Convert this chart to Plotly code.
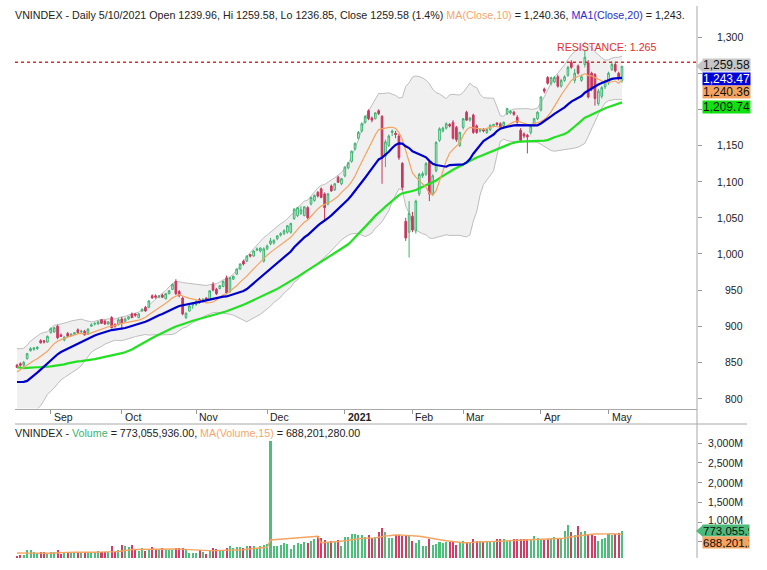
import numpy as np
import pandas as pd
import plotly.graph_objects as go

# ---------------- data ----------------
HOLIDAYS = ["2020-09-02", "2021-01-01", "2021-02-10", "2021-02-11", "2021-02-12",
            "2021-02-15", "2021-02-16", "2021-04-21", "2021-04-30", "2021-05-03"]
dates = [d.strftime("%Y-%m-%d") for d in pd.bdate_range("2020-08-18", "2021-05-10")
         if d.strftime("%Y-%m-%d") not in HOLIDAYS]

opens = [846, 848, 846, 855, 866, 868, 869, 880, 880, 878,
         891, 892, 900, 888, 881, 890, 887, 889, 895, 892, 893, 889, 900, 903, 903, 909, 907, 903, 912, 902, 902,
         910, 907, 910, 917, 917, 912, 921, 926, 926, 942, 942, 940, 943, 938, 945, 951, 962, 948, 939, 912, 921, 929,
         930, 937, 934, 939, 937, 958, 951, 952, 955, 967, 948, 965, 972, 979, 990, 990, 999, 997, 1005, 1004, 990,
         1007, 1014, 1015, 1021, 1026, 1028, 1030, 1030, 1049, 1053, 1056, 1053, 1064, 1069, 1074, 1085, 1090, 1083, 1069, 1094, 1089, 1106, 1097,
         1108, 1119, 1128, 1145, 1160, 1170, 1182, 1198, 1188, 1187, 1198, 1190, 1135, 1150, 1168, 1167, 1163, 1125, 1045, 1030,
         1052, 1032, 1083, 1108, 1110, 1127, 1083, 1115, 1157, 1170, 1174, 1179, 1182, 1175, 1150,
         1175, 1196, 1185, 1192, 1177, 1170, 1172, 1168, 1172, 1177, 1181, 1180, 1177, 1194, 1195, 1196, 1189, 1171, 1166, 1164, 1168, 1178, 1187,
         1199, 1228, 1244, 1236, 1238, 1245, 1232, 1240, 1247, 1265, 1240, 1260, 1240, 1262, 1264, 1250, 1248, 1208, 1218, 1231,
         1237, 1255, 1262, 1250, 1239.96]
highs = [848, 850, 852, 863, 871, 871, 872, 882, 881, 887,
         898, 899, 902, 890, 886, 892, 890, 892, 897, 895, 895, 897, 904, 905, 907, 910, 909, 907, 914, 904, 911,
         913, 912, 914, 919, 918, 918, 925, 928, 936, 944, 944, 943, 945, 946, 950, 959, 965, 950, 941, 919, 930, 933,
         936, 939, 939, 940, 950, 961, 953, 957, 963, 970, 968, 970, 980, 987, 992, 998, 1000, 1005, 1009, 1009, 1009,
         1013, 1022, 1020, 1026, 1030, 1034, 1040, 1043, 1063, 1065, 1066, 1066, 1066, 1079, 1082, 1087, 1092, 1085, 1084, 1096, 1098, 1108, 1105,
         1121, 1127, 1143, 1154, 1170, 1182, 1192, 1200, 1190, 1196, 1200, 1192, 1158, 1165, 1172, 1170, 1166, 1127, 1050, 1073,
         1058, 1075, 1112, 1114, 1127, 1130, 1110, 1156, 1175, 1176, 1182, 1181, 1185, 1177, 1169,
         1188, 1198, 1189, 1194, 1179, 1174, 1174, 1173, 1179, 1180, 1182, 1182, 1183, 1202, 1199, 1198, 1192, 1174, 1168, 1166, 1178, 1188, 1197,
         1218, 1230, 1246, 1245, 1246, 1248, 1242, 1247, 1260, 1268, 1256, 1262, 1248, 1282, 1268, 1252, 1250, 1228, 1232, 1241,
         1252, 1266, 1265, 1252, 1259.58]
lows = [842, 844, 843, 854, 865, 866, 867, 876, 876, 877,
        890, 891, 882, 885, 879, 885, 886, 888, 890, 891, 887, 888, 899, 901, 902, 903, 902, 902, 897, 898, 901,
        895, 905, 909, 911, 913, 911, 920, 920, 925, 938, 938, 939, 939, 937, 944, 950, 943, 940, 915, 910, 920, 924,
        928, 931, 933, 935, 936, 948, 943, 951, 954, 944, 946, 964, 971, 978, 984, 989, 995, 996, 1004, 1002, 988,
        1005, 1012, 1013, 1019, 1024, 1026, 1028, 1028, 1047, 1051, 1054, 1052, 1048, 1067, 1072, 1078, 1077, 1046, 1067, 1086, 1087, 1098, 1095,
        1106, 1117, 1126, 1143, 1158, 1168, 1180, 1185, 1182, 1186, 1192, 1097, 1120, 1148, 1163, 1160, 1130, 1088, 1018, 995,
        1030, 1028, 1080, 1105, 1108, 1073, 1080, 1113, 1155, 1168, 1172, 1175, 1158, 1155, 1148,
        1172, 1184, 1183, 1166, 1166, 1168, 1168, 1166, 1170, 1175, 1177, 1173, 1175, 1192, 1193, 1191, 1180, 1155, 1160, 1139, 1165, 1176, 1185,
        1197, 1222, 1234, 1233, 1236, 1230, 1230, 1238, 1245, 1256, 1236, 1248, 1238, 1258, 1215, 1225, 1205, 1205, 1215, 1228,
        1234, 1253, 1251, 1240, 1236.85]
closes = [843, 846, 850, 862, 869, 870, 871, 877, 878, 886,
          897, 898, 884, 886, 885, 886, 889, 891, 891, 893, 888, 896, 902, 904, 906, 904, 903, 906, 898, 900, 909,
          904, 910, 913, 912, 915, 917, 923, 921, 935, 939, 940, 942, 940, 945, 949, 958, 945, 942, 917, 918, 928, 932,
          934, 933, 937, 937, 949, 950, 945, 956, 962, 946, 967, 969, 979, 986, 986, 997, 997, 1004, 1007, 1008, 1007,
          1011, 1018, 1019, 1025, 1028, 1032, 1039, 1042, 1062, 1064, 1061, 1065, 1050, 1078, 1081, 1080, 1078, 1064, 1083, 1087, 1097, 1099, 1104,
          1120, 1126, 1142, 1153, 1168, 1180, 1190, 1187, 1185, 1195, 1194, 1132, 1155, 1163, 1170, 1165, 1133, 1092, 1022, 1056,
          1033, 1073, 1110, 1111, 1125, 1083, 1108, 1154, 1173, 1174, 1180, 1177, 1160, 1158, 1168,
          1187, 1185, 1188, 1168, 1168, 1172, 1170, 1172, 1178, 1179, 1179, 1175, 1182, 1201, 1197, 1193, 1182, 1157, 1163, 1162, 1177, 1187, 1196,
          1217, 1225, 1236, 1244, 1244, 1232, 1240, 1245, 1258, 1258, 1250, 1250, 1245, 1272, 1217, 1228, 1215, 1225, 1230, 1239,
          1250, 1262, 1253, 1242.2, 1259.58]
# closes before the visible window (for the moving averages / bands)
pre_closes = [866, 878, 880, 887, 863, 856, 838, 858, 866, 869, 874, 868, 866, 865, 857, 850, 838, 825,
              834, 845, 855, 867, 866, 868, 860, 863, 858, 857, 860, 853, 855, 842, 842, 848, 845, 835,
              801, 783, 797, 794, 790, 790, 807, 813, 818, 825, 838, 842, 847, 842, 851, 847]

volumes_m = [130, 160, 170, 290, 280, 240, 210, 250, 240, 200,
             250, 245, 290, 200, 210, 230, 210, 220, 240, 230, 240, 250, 240, 250, 260, 250, 240, 250, 380, 250, 300,
             430, 380, 370, 420, 310, 260, 330, 270, 290, 360, 290, 290, 330, 290, 300, 300, 330, 330, 330, 290, 220, 210,
             220, 280, 230, 200, 280, 330, 310, 260, 280, 330, 380, 330, 360, 360, 330, 400, 390, 380, 330, 380, 430,
             450, 3060, 380, 400, 420, 470, 440, 320, 420, 480, 450, 490, 470, 530, 580, 650, 600, 540, 500, 520, 510, 540, 400,
             620, 620, 700, 690, 670, 670, 630, 670, 590, 630, 740, 840, 740, 590, 600, 671, 671, 640, 671, 671,
             520, 480, 544, 390, 390, 560, 418, 440, 500, 480, 500, 500, 500, 418, 480,
             530, 460, 500, 570, 530, 530, 500, 530, 530, 530, 560, 560, 560, 530, 544, 560, 560, 560, 560, 560, 544, 640, 590,
             560, 544, 560, 590, 610, 590, 590, 780, 924, 740, 671, 900, 740, 760, 680, 660, 650, 520, 560, 600,
             700, 680, 700, 720, 773.055936]
pre_volumes_m = [240, 260, 230, 220, 250, 260, 240, 230, 220, 210, 200, 190, 180, 170]

MONTH_LABELS = ["Sep", "Oct", "Nov", "Dec", "2021", "Feb", "Mar", "Apr", "May"]
PRICE_TICKS = [800, 850, 900, 950, 1000, 1050, 1100, 1150, 1200, 1250, 1300]
PRICE_LABELS_SHOWN = [800, 850, 900, 950, 1000, 1050, 1100, 1150, 1300]
VOLUME_TICKS_M = [500, 1000, 1500, 2000, 2500, 3000]
VOLUME_LABELS_SHOWN_M = [1000, 1500, 2000, 2500, 3000]
RESISTANCE = 1265
MA10_LAST, MA20_LAST, MA50_LAST = 1240.36, 1243.47, 1209.74
VOLUME_LAST, VOLUME_MA_LAST = 773055936.00, 688201280.00
CHANGE_PCT = 1.4

# ---------------- derived ----------------
n = len(dates)
all_close = pd.Series(pre_closes + closes, dtype=float)
ma10 = all_close.rolling(10).mean().iloc[-n:].tolist()
ma20s = all_close.rolling(20).mean()
sd20 = all_close.rolling(20).std(ddof=0)
ma20 = ma20s.iloc[-n:].tolist()
bb_up = (ma20s + 2 * sd20).iloc[-n:].tolist()
bb_lo = (ma20s - 2 * sd20).iloc[-n:].tolist()
ma50 = all_close.rolling(50).mean().iloc[-n:].tolist()
all_vol = pd.Series(pre_volumes_m + volumes_m, dtype=float) * 1e6
vol = (pd.Series(volumes_m, dtype=float) * 1e6).tolist()
vol_ma = all_vol.rolling(15).mean().iloc[-n:].tolist()

month_ticks = []
seen = set()
for d in dates:
    ym = d[:7]
    if ym not in seen:
        seen.add(ym)
        if ym != "2020-08":
            month_ticks.append(d)

# ---------------- geometry ----------------
W, H = 767, 570
ML, MR, MT, MB = 15, 70, 27, 12
PH = H - MT - MB
PW = W - ML - MR


def py(pix):
    return (H - MB - pix) / PH


def px(pix):
    return (pix - ML) / PW


FONT = "Liberation Sans, Arial, sans-serif"
UP_LINE, UP_FILL = "#3cb371", "#d6f1e0"
DN = "#c8385f"
VOL_UP, VOL_DN = "#4cbf7a", "#d23d66"

fig = go.Figure()
# Bollinger cloud on the base subplot (drawn underneath)
fig.add_trace(go.Scatter(x=dates, y=bb_lo, mode="lines", line=dict(color="#bdbdbd", width=1),
                         hoverinfo="skip", showlegend=False, xaxis="x", yaxis="y"))
fig.add_trace(go.Scatter(x=dates, y=bb_up, mode="lines", line=dict(color="#bdbdbd", width=1),
                         fill="tonexty", fillcolor="#f0f0f0", hoverinfo="skip", showlegend=False,
                         xaxis="x", yaxis="y"))
# price + averages on an overlaying subplot
fig.add_trace(go.Candlestick(x=dates, open=opens, high=highs, low=lows, close=closes,
                             increasing=dict(line=dict(color=UP_LINE, width=1), fillcolor=UP_FILL),
                             decreasing=dict(line=dict(color=DN, width=1), fillcolor=DN),
                             whiskerwidth=0, showlegend=False, xaxis="x3", yaxis="y3"))
fig.add_trace(go.Scatter(x=dates, y=ma50, mode="lines", line=dict(color="#22e022", width=2.2),
                         showlegend=False, xaxis="x3", yaxis="y3"))
fig.add_trace(go.Scatter(x=dates, y=ma10, mode="lines", line=dict(color="#f4a460", width=1.2),
                         showlegend=False, xaxis="x3", yaxis="y3"))
fig.add_trace(go.Scatter(x=dates, y=ma20, mode="lines", line=dict(color="#0000cc", width=2.2),
                         showlegend=False, xaxis="x3", yaxis="y3"))

vcolors = [VOL_UP if c >= o else VOL_DN for o, c in zip(opens, closes)]
fig.add_trace(go.Bar(x=dates, y=vol, marker=dict(color=vcolors, line=dict(width=0)), width=0.6,
                     xaxis="x2", yaxis="y2", showlegend=False))
fig.add_trace(go.Scatter(x=dates, y=vol_ma, mode="lines", line=dict(color="#f4a460", width=1.4),
                         xaxis="x2", yaxis="y2", showlegend=False))

# axis ranges from pixel geometry
p_per_pt = (398.5 - 37) / 500.0
y_top = 1300 + (37 - MT) / p_per_pt
y_bot = 1300 - (408.5 - 37) / p_per_pt
v_per_px = 2000e6 / (522 - 443)
v_bot = (561.5 - (H - MB)) * v_per_px
v_top = (561.5 - 428) * v_per_px
x_left = (ML - 17) / 3.38
x_right = (697 - 17) / 3.38

axis_common = dict(showgrid=False, zeroline=False)
fig.update_layout(
    width=W, height=H, margin=dict(l=ML, r=MR, t=MT, b=MB),
    paper_bgcolor="white", plot_bgcolor="white",
    font=dict(family=FONT, size=10, color="#222"),
    showlegend=False, hovermode=False, bargap=0,
    xaxis=dict(domain=[0, 1], anchor="y", type="category", range=[x_left, x_right],
               rangeslider=dict(visible=False), tickmode="array", tickvals=month_ticks,
               ticks="outside", ticklen=4, tickcolor="#999", showticklabels=False,
               showline=True, linecolor="#a8a8a8", linewidth=1, **axis_common),
    xaxis3=dict(domain=[0, 1], anchor="y3", overlaying="x", type="category", range=[x_left, x_right],
                rangeslider=dict(visible=False), visible=False, **axis_common),
    xaxis2=dict(domain=[0, 1], anchor="y2", type="category", range=[x_left, x_right],
                showticklabels=False, ticks="", showline=False, **axis_common),
    yaxis=dict(domain=[py(408.5), 1], anchor="x", side="right", range=[y_bot, y_top],
               tickmode="array", tickvals=PRICE_TICKS, ticks="outside", ticklen=4, tickcolor="#999",
               showticklabels=False, showline=False, **axis_common),
    yaxis3=dict(domain=[py(408.5), 1], anchor="x3", overlaying="y", side="right", range=[y_bot, y_top],
                visible=False, **axis_common),
    yaxis2=dict(domain=[0, py(428)], anchor="x2", side="right", range=[v_bot, v_top],
                tickmode="array", tickvals=[v * 1e6 for v in VOLUME_TICKS_M], ticks="outside", ticklen=4,
                tickcolor="#999", showticklabels=False, showline=False, **axis_common),
)

shapes = [
    dict(type="line", xref="paper", yref="y", x0=0, x1=1, y0=RESISTANCE, y1=RESISTANCE,
         line=dict(color="#e02a2a", width=1.5, dash="dot")),
    dict(type="line", xref="paper", yref="paper", x0=1, x1=1, y0=0, y1=py(6),
         line=dict(color="#a8a8a8", width=1)),
    dict(type="line", xref="paper", yref="paper", x0=0, x1=px(747), y0=py(424), y1=py(424),
         line=dict(color="#a8a8a8", width=1)),
    dict(type="path", xref="paper", xsizemode="pixel", xanchor=1, yref="y", ysizemode="pixel",
         yanchor=closes[-1], path="M 6,-6 L 6,6 L -1,0 Z", fillcolor="#c6c6c6", line=dict(width=0)),
    dict(type="path", xref="paper", xsizemode="pixel", xanchor=1, yref="y2", ysizemode="pixel",
         yanchor=VOLUME_LAST, path="M 6,-6 L 6,6 L -1,0 Z", fillcolor="#4cbb7a", line=dict(width=0)),
]
fig.update_layout(shapes=shapes)

ann = []
# titles
title = (f"VNINDEX - Daily 5/10/2021 Open {opens[-1]:.2f}, Hi {highs[-1]:.2f}, Lo {lows[-1]:.2f}, "
         f"Close {closes[-1]:.2f} ({CHANGE_PCT}%) <span style='color:#f5a66c'>MA(Close,10)</span> = "
         f"{MA10_LAST:,.2f}, <span style='color:#2b2bd0'>MA1(Close,20)</span> = 1,243.")
ann.append(dict(text=title, xref="paper", yref="paper", x=0, y=py(15), xanchor="left", yanchor="middle",
                xshift=-2, showarrow=False, font=dict(size=10.7, color="#222")))
vtitle = (f"VNINDEX - <span style='color:#3cb371'>Volume</span> = {VOLUME_LAST:,.2f}, "
          f"<span style='color:#f5a66c'>MA(Volume,15)</span> = {VOLUME_MA_LAST:,.2f}")
ann.append(dict(text=vtitle, xref="paper", yref="paper", x=0, y=py(433), xanchor="left", yanchor="middle",
                xshift=-2, showarrow=False, font=dict(size=10.7, color="#222")))
# month labels
for d, lab in zip(month_ticks, MONTH_LABELS):
    txt = f"<b>{lab}</b>" if lab == "2021" else lab
    ann.append(dict(text=txt, xref="x", yref="paper", x=d, y=py(416.5), xanchor="left", yanchor="middle",
                    xshift=1, showarrow=False, font=dict(size=10.5, color="#222")))
# right tick labels (those hidden by value boxes in the original are not drawn)
for v in PRICE_LABELS_SHOWN:
    ann.append(dict(text=f"{v:,}", xref="paper", yref="y", x=1, y=v, xanchor="right", yanchor="middle",
                    xshift=48, showarrow=False, font=dict(size=10.5, color="#222")))
for v in VOLUME_LABELS_SHOWN_M:
    ann.append(dict(text=f"{v:,}M", xref="paper", yref="y2", x=1, y=v * 1e6, xanchor="right",
                    yanchor="middle", xshift=48, yshift=2 if v == 1000 else 0, showarrow=False,
                    font=dict(size=10.5, color="#222")))
# resistance label
ann.append(dict(text=f"RESISTANCE: {RESISTANCE / 1000:.3f}", xref="paper", yref="y", x=px(555), y=RESISTANCE,
                xanchor="left", yanchor="middle", yshift=15, showarrow=False,
                font=dict(size=10.6, color="#e03030")))
# value boxes
boxes = [
    (f"{closes[-1]:,.2f}", closes[-1], "#c6c6c6", "#111", 1),
    (f"{MA20_LAST:,.2f}", MA20_LAST, "#0000d8", "#ffffff", -1),
    (f"{MA10_LAST:,.2f}", MA10_LAST, "#f4a460", "#111", -12),
    (f"{MA50_LAST:,.2f}", MA50_LAST, "#11e011", "#111", -5),
]
for txt, yv, bg, fc, ys in boxes:
    ann.append(dict(text=txt, xref="paper", yref="y", x=1, y=yv, xanchor="left", yanchor="middle",
                    xshift=5, yshift=ys, showarrow=False, bgcolor=bg, borderpad=0, width=47, height=12,
                    align="left", font=dict(size=12, color=fc)))
vboxes = [
    (f"{VOLUME_LAST:,.0f}"[:9], VOLUME_LAST, "#4cbb7a", "#111", 0),
    (f"{VOLUME_MA_LAST:,.0f}"[:9], VOLUME_MA_LAST, "#f4a460", "#111", -8),
]
for txt, yv, bg, fc, ys in vboxes:
    ann.append(dict(text=txt, xref="paper", yref="y2", x=1, y=yv, xanchor="left", yanchor="middle",
                    xshift=5, yshift=ys, showarrow=False, bgcolor=bg, borderpad=0, width=46, height=11,
                    align="left", font=dict(size=11.5, color=fc)))
fig.update_layout(annotations=ann)

fig.write_html("out.html", config={"displayModeBar": False},
               post_script="document.body.style.margin='0';document.body.style.padding='0';")
